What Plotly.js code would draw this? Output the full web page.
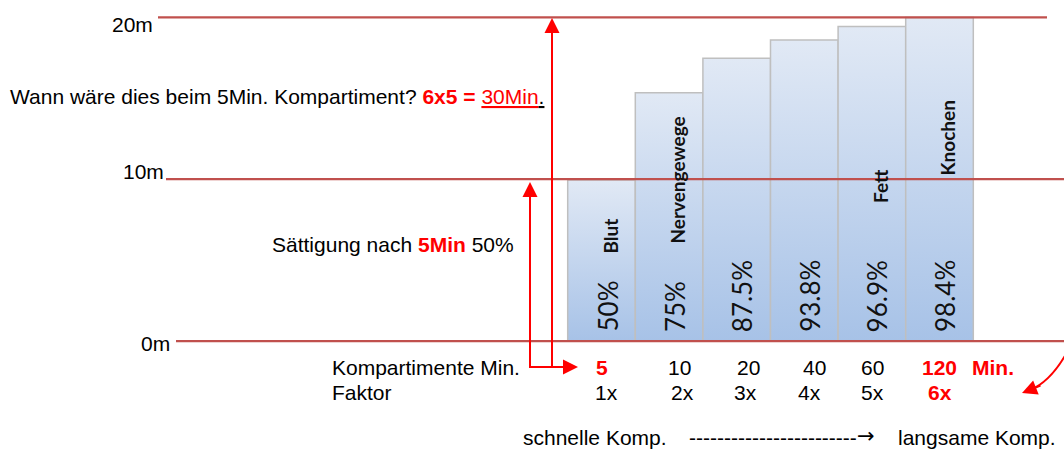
<!DOCTYPE html>
<html><head><meta charset="utf-8">
<script src="https://cdn.plot.ly/plotly-3.0.1.min.js"></script>
<style>html,body{margin:0;padding:0;background:#fff}#chart{width:1064px;height:450px}</style>
</head><body><div id="chart"></div>
<script>
// ---------------- data ----------------
const compartments = ['Blut', 'Nervengewege', '', '', 'Fett', 'Knochen'];
const saturation = ['50%', '75%', '87.5%', '93.8%', '96.9%', '98.4%'];
const barHeights = [9.95, 15.35, 17.47, 18.6, 19.43, 20.0];   // drawn height in m
const halfTimes = ['5', '10', '20', '40', '60', '120'];
const factors = ['1x', '2x', '3x', '4x', '5x', '6x'];
const levels = [0, 10, 20];
const levelLabels = ['0m', '10m', '20m'];
const halfTimeRed = [true, false, false, false, false, true];
const factorRed = [false, false, false, false, false, true];

// ---------------- geometry ----------------
const W = 1064, H = 450;
const X0 = 567.7, BW = 67.6;      // left edge of first bar, bar width (px)
const Y0 = 341, PXM = 16.18;      // 0m line (px), px per metre
const PX = x => x / W;
const PY = y => 1 - y / H;
const RED = '#FF0000', LINE = '#C0504D';
const SANS = 'Liberation Sans, Arial, sans-serif';
const CAL = 'Lato, Carlito, Calibri, sans-serif';

const traces = [];
barHeights.forEach((h, i) => {
  traces.push({
    type: 'scatter', mode: 'lines',
    x: [i - 0.5, i - 0.5, i + 0.5, i + 0.5, i - 0.5],
    y: [0, h, h, 0, 0],
    fill: 'toself',
    fillgradient: {type: 'vertical', colorscale: [[0, '#A7C2E7'], [1, '#E1E9F5']], start: 0, stop: h},
    line: {color: '#BFBFBF', width: 1.5},
    hoverinfo: 'skip', showlegend: false
  });
});

const shapes = [];
const lineStart = [176, 166, 158], lineEnd = [1064, 1064, 1047];
levels.forEach((lv, i) => shapes.push({
  type: 'line', xref: 'paper', yref: 'y', x0: PX(lineStart[i]), x1: PX(lineEnd[i]), y0: lv, y1: lv,
  line: {color: LINE, width: 2.25}, layer: 'above'
}));
// red connector lines
const seg = (x0, y0, x1, y1) => shapes.push({type: 'line', xref: 'paper', yref: 'paper',
  x0: PX(x0), y0: PY(y0), x1: PX(x1), y1: PY(y1), line: {color: RED, width: 2}, layer: 'above'});
seg(530, 367, 530, 195);
seg(552, 367, 552, 30);
seg(529, 367, 566, 367);
shapes.push({type: 'path', xref: 'paper', yref: 'paper',
  path: `M ${PX(1066)} ${PY(354)} Q ${PX(1050)} ${PY(382)} ${PX(1030)} ${PY(390)}`,
  line: {color: RED, width: 2}, layer: 'above'});

const ann = [];
const head = (x, y, ax, ay) => ann.push({xref: 'paper', yref: 'paper', x: PX(x), y: PY(y), ax: ax, ay: ay,
  text: '', showarrow: true, arrowhead: 2, arrowsize: 1.5, arrowwidth: 2, arrowcolor: RED, standoff: 0});
head(530, 182, 0, 25);
head(552, 18, 0, 25);
head(578, 367, -25, 0);
head(1022, 393, 20, -8);

// level labels
const lvlRight = [172, 166, 155], lvlShift = [-2, 8, -6.6];
levels.forEach((lv, i) => ann.push({xref: 'paper', yref: 'y', x: PX(lvlRight[i]), y: lv, yshift: lvlShift[i],
  xanchor: 'right', yanchor: 'middle', text: levelLabels[i], showarrow: false,
  font: {family: SANS, size: 21, color: '#000'}}));

// in-bar texts
saturation.forEach((t, i) => ann.push({xref: 'x', yref: 'paper', x: i, y: PY(333), xshift: 5.5,
  xanchor: 'center', yanchor: 'bottom', textangle: -90, text: t, showarrow: false, borderpad: 0,
  font: {family: CAL, size: 26, color: '#111'}}));
const catBottom = [255, 245, 0, 0, 204, 177], catShift = [8.5, 8, 0, 0, 8, 7.5];
compartments.forEach((t, i) => { if (t) ann.push({xref: 'x', yref: 'paper', x: i, y: PY(catBottom[i]), xshift: catShift[i],
  xanchor: 'center', yanchor: 'bottom', textangle: -90, text: '<b>' + t + '</b>', showarrow: false, borderpad: 0,
  font: {family: CAL, size: 19, color: '#111'}}); });

// rows under axis
const row1Shift = [0, 10, 12, 10, 1, 0], row2Shift = [5, 13, 9, 5, 1, 0];
halfTimes.forEach((t, i) => ann.push({xref: 'x', yref: 'paper', x: i, y: PY(367), xshift: row1Shift[i],
  xanchor: 'center', yanchor: 'middle', showarrow: false,
  text: halfTimeRed[i] ? '<b>' + t + '</b>' : t,
  font: {family: SANS, size: 21, color: halfTimeRed[i] ? RED : '#000'}}));
factors.forEach((t, i) => ann.push({xref: 'x', yref: 'paper', x: i, y: PY(392), xshift: row2Shift[i],
  xanchor: 'center', yanchor: 'middle', showarrow: false,
  text: factorRed[i] ? '<b>' + t + '</b>' : t,
  font: {family: SANS, size: 21, color: factorRed[i] ? RED : '#000'}}));

const txt = (x, y, t, color, fam) => ann.push({xref: 'paper', yref: 'paper', x: PX(x), y: PY(y), xanchor: 'left', yanchor: 'middle',
  text: t, showarrow: false, font: {family: fam || SANS, size: 21, color: color || '#000'}});
txt(970, 367, '<b>Min.</b>', RED);
txt(330, 367, 'Kompartimente Min.');
txt(330, 392, 'Faktor');
txt(8, 97, 'Wann wäre dies beim 5Min. Kompartiment? <b><span style="color:#FF0000">6x5 =</span></b> <span style="color:#FF0000"><u>30Min</u></span><u>.</u>');
txt(270, 245, 'Sättigung nach <b><span style="color:#FF0000">5Min</span></b> 50%');
txt(521, 437, 'schnelle Komp.');
txt(687, 437, '------------------------');
txt(855, 436, '\u2192', '#000', 'DejaVu Sans, sans-serif');
txt(896, 437, 'langsame Komp.');

const layout = {
  width: W, height: H, margin: {l: 0, r: 0, t: 0, b: 0},
  paper_bgcolor: '#fff', plot_bgcolor: '#fff', showlegend: false,
  xaxis: {range: [-0.5 - X0 / BW, -0.5 + (W - X0) / BW], visible: false, fixedrange: true},
  yaxis: {range: [-(H - Y0) / PXM, Y0 / PXM], visible: false, fixedrange: true},
  shapes: shapes, annotations: ann
};
Plotly.newPlot('chart', traces, layout, {staticPlot: true, displayModeBar: false});
</script></body></html>
